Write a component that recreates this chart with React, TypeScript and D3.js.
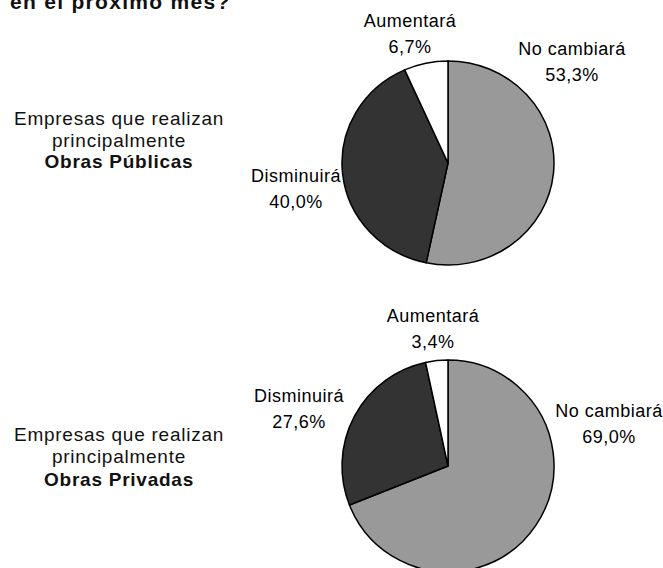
import React from "react";
import * as d3 from "d3";

const categories = ["No cambiará", "Disminuirá", "Aumentará"];
const publicValues = [53.3, 40.0, 6.7];
const privateValues = [69.0, 27.6, 3.4];
const sliceColors = ["#999999", "#333333", "#ffffff"];
const titleText = "en el próximo mes?";
const groupLines1 = ["Empresas que realizan", "principalmente", "Obras Públicas"];
const groupLines2 = ["Empresas que realizan", "principalmente", "Obras Privadas"];

const fmt = (v: number) => v.toFixed(1).replace(".", ",") + "%";

type LabelPos = { x: number; y: number };

const FONT = "'Liberation Sans', Arial, Helvetica, sans-serif";

function Pie({
  values,
  cx,
  cy,
  rx,
  ry,
  labels,
}: {
  values: number[];
  cx: number;
  cy: number;
  rx: number;
  ry: number;
  labels: LabelPos[];
}) {
  const pie = d3.pie<number>().sort(null).value((d) => d);
  const arcs = pie(values);
  const arc = d3.arc<d3.PieArcDatum<number>>().innerRadius(0).outerRadius(rx);
  return (
    <g>
      <g transform={`translate(${cx},${cy}) scale(1,${ry / rx})`}>
        {arcs.map((a, i) => (
          <path
            key={i}
            d={arc(a) || ""}
            fill={sliceColors[i]}
            stroke="#000"
            strokeWidth={1.5}
            vectorEffect="non-scaling-stroke"
            strokeLinejoin="round"
          />
        ))}
      </g>
      {labels.map((p, i) => (
        <g key={i}>
          <text x={p.x} y={p.y} textAnchor="middle" fontSize={18} letterSpacing={0.5} fill="#000" fontFamily={FONT}>
            {categories[i]}
          </text>
          <text x={p.x} y={p.y + 26} textAnchor="middle" fontSize={18} letterSpacing={0.5} fill="#000" fontFamily={FONT}>
            {fmt(values[i])}
          </text>
        </g>
      ))}
    </g>
  );
}

function GroupLabel({ lines, x, ys }: { lines: string[]; x: number; ys: number[] }) {
  return (
    <g>
      {lines.map((l, i) => (
        <text
          key={i}
          x={x}
          y={ys[i]}
          textAnchor="middle"
          fontSize={19}
          letterSpacing={0.75}
          fontWeight={i === 2 ? "bold" : "normal"}
          fill="#111"
          fontFamily={FONT}
        >
          {l}
        </text>
      ))}
    </g>
  );
}

export default function App() {
  return (
    <svg
      width={663}
      height={568}
      style={{ position: "absolute", left: 0, top: 0, background: "#fff" }}
    >
      <rect width={663} height={568} fill="#fff" />
      <text x={10} y={9} fontSize={21} fontWeight="bold" letterSpacing={1.3} fill="#111" fontFamily={FONT}>
        {titleText}
      </text>
      <GroupLabel lines={groupLines1} x={119} ys={[125, 147, 168]} />
      <GroupLabel lines={groupLines2} x={119} ys={[441, 463, 486]} />
      <Pie
        values={publicValues}
        cx={448}
        cy={163}
        rx={106}
        ry={102}
        labels={[
          { x: 572, y: 55 },
          { x: 296, y: 182 },
          { x: 410, y: 27 },
        ]}
      />
      <Pie
        values={privateValues}
        cx={448}
        cy={466}
        rx={106}
        ry={106}
        labels={[
          { x: 609, y: 417 },
          { x: 299, y: 402 },
          { x: 433, y: 322 },
        ]}
      />
    </svg>
  );
}
